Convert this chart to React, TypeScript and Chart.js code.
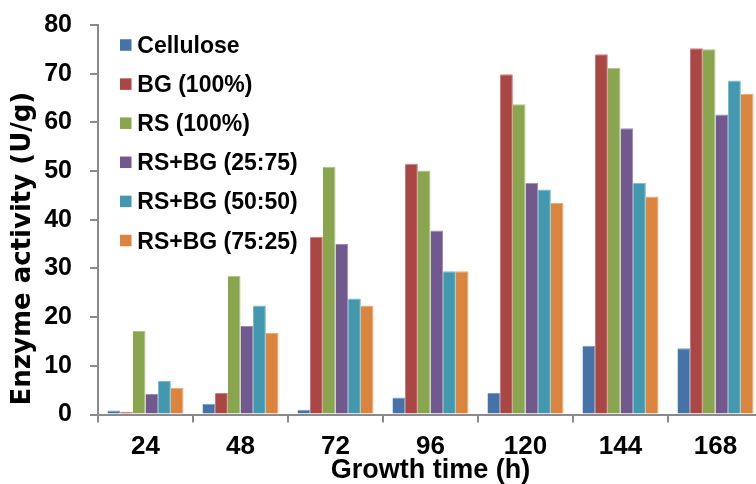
import React, { useEffect, useRef } from "react";
import { Chart, registerables } from "chart.js";

Chart.register(...registerables);

const categories = ["24", "48", "72", "96", "120", "144", "168"];
const seriesNames = ["Cellulose", "BG (100%)", "RS (100%)", "RS+BG (25:75)", "RS+BG (50:50)", "RS+BG (75:25)"];
const cellulose = [0.8, 2.2, 0.9, 3.5, 4.4, 14.1, 13.6];
const bg100 = [0.5, 4.4, 36.5, 51.5, 69.9, 74.0, 75.2];
const rs100 = [17.2, 28.5, 50.9, 50.1, 63.7, 71.2, 75.0];
const mix2575 = [4.2, 18.2, 35.0, 37.8, 47.6, 58.8, 61.6];
const mix5050 = [6.9, 22.4, 23.8, 29.4, 46.2, 47.6, 68.6];
const mix7525 = [5.5, 16.8, 22.4, 29.4, 43.5, 44.8, 65.9];
const colors = ["#4572A7", "#AA4643", "#89A54E", "#71588F", "#4198AF", "#DB843D"];
const yTitle = " Enzyme activity (U/g)";
const xTitle = "Growth time (h)";

const AXIS = "#8a8a8a";
const FONT = "'Liberation Sans', Arial, Helvetica, sans-serif";

function tint(hex: string, t: number) {
  const n = parseInt(hex.slice(1), 16);
  const r = (n >> 16) & 255, g = (n >> 8) & 255, b = n & 255;
  const m = (c: number) => Math.round(c + (255 - c) * t);
  return `rgb(${m(r)},${m(g)},${m(b)})`;
}

const legendPlugin = {
  id: "insideLegend",
  afterDraw(chart: any) {
    const ctx = chart.ctx;
    ctx.save();
    ctx.font = `bold 23px ${FONT}`;
    ctx.textBaseline = "alphabetic";
    ctx.textAlign = "left";
    chart.data.datasets.forEach((ds: any, i: number) => {
      const cy = 45 + i * 39.1;
      ctx.fillStyle = ds.backgroundColor;
      ctx.fillRect(120, cy - 5.75, 11.5, 11.5);
      ctx.fillStyle = "#000";
      ctx.fillText(ds.label, 137.3, cy + 8);
    });
    ctx.restore();
  },
};

export default function App() {
  const ref = useRef<HTMLCanvasElement | null>(null);
  useEffect(() => {
    if (!ref.current) return;
    const series = [cellulose, bg100, rs100, mix2575, mix5050, mix7525];
    const chart = new Chart(ref.current, {
      type: "bar",
      data: {
        labels: categories,
        datasets: series.map((d, i) => ({
          label: seriesNames[i],
          data: d,
          backgroundColor: colors[i],
          borderColor: tint(colors[i], 0.3),
          borderWidth: { top: 1, right: 1, left: 0, bottom: 0 },
          borderSkipped: false,
          categoryPercentage: 0.8,
          barPercentage: 1.0,
        })),
      },
      options: {
        animation: false,
        responsive: false,
        maintainAspectRatio: false,
        events: [],
        layout: { padding: { top: 25, right: 17, bottom: 0, left: 0 } },
        plugins: {
          legend: { display: false },
          tooltip: { enabled: false },
          title: { display: false },
        },
        scales: {
          x: {
            offset: true,
            grid: {
              offset: true,
              drawOnChartArea: false,
              drawTicks: true,
              tickLength: 8,
              color: AXIS,
              lineWidth: 2,
            },
            border: { display: true, color: AXIS, width: 2 },
            ticks: {
              color: "#000",
              padding: 9,
              font: { family: FONT, size: 26, weight: "bold" },
              maxRotation: 0,
            },
            title: {
              display: true,
              text: xTitle,
              color: "#000",
              font: { family: FONT, size: 27, weight: "bold", lineHeight: 1.0 },
              padding: { top: 0, bottom: 0 },
            },
            afterFit(scale: any) {
              scale.height = 69.5;
            },
          },
          y: {
            min: 0,
            max: 80,
            ticks: {
              stepSize: 10,
              color: "#000",
              padding: 18,
              font: { family: FONT, size: 25, weight: "bold", lineHeight: 0.5 },
            },
            grid: {
              drawOnChartArea: false,
              drawTicks: true,
              tickLength: 8,
              color: AXIS,
              lineWidth: 2,
            },
            border: { display: true, color: AXIS, width: 2 },
            title: {
              display: true,
              text: yTitle,
              align: "start",
              color: "#000",
              font: { family: "'DejaVu Sans', sans-serif", size: 26, weight: "bold" },
              padding: { top: 8, bottom: 0 },
            },
            afterFit(scale: any) {
              scale.width = 98;
            },
          },
        },
      },
      plugins: [legendPlugin],
    } as any);
    return () => chart.destroy();
  }, []);

  return (
    <div
      style={{
        position: "fixed",
        left: 0,
        top: 0,
        width: 756,
        height: 484,
        overflow: "hidden",
        background: "#fff",
      }}
    >
      <canvas ref={ref} width={780} height={484} style={{ display: "block", width: 780, height: 484 }} />
    </div>
  );
}
